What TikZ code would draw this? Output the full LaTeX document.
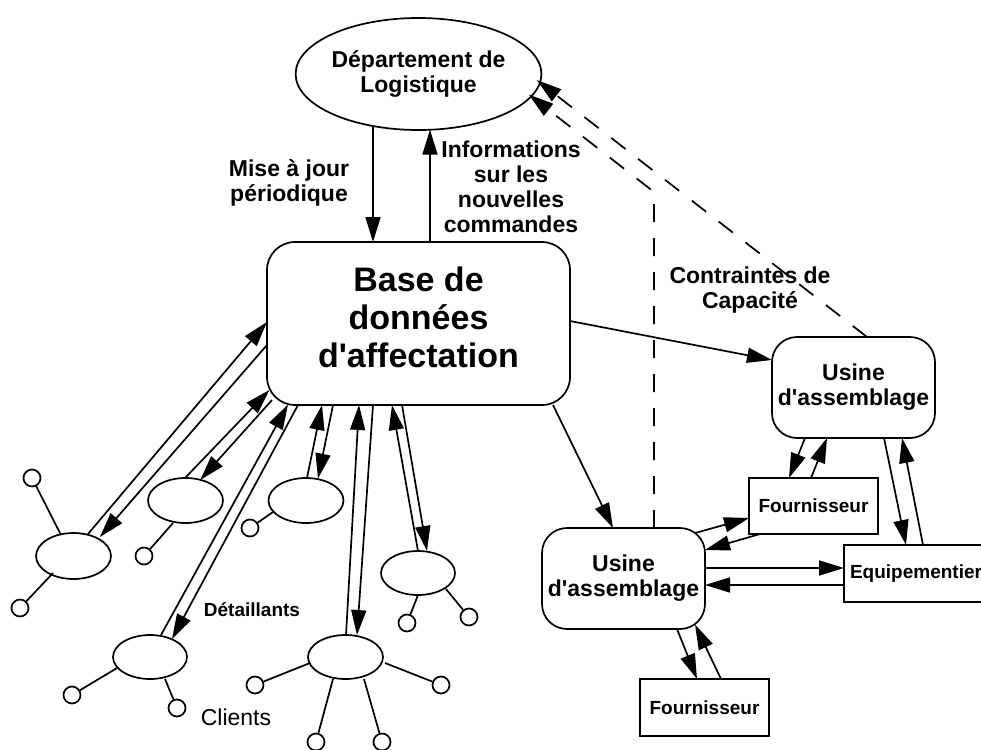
\documentclass[tikz,border=0pt]{standalone}
\usepackage{fontspec}
\setmainfont{Liberation Sans}
\usetikzlibrary{shapes.geometric,arrows.meta}
\begin{document}
\begin{tikzpicture}[x=1pt,y=-1pt,line width=1.7pt,
  arr/.style={-{Triangle[length=25pt,width=15pt]}},
  dsh/.style={dash pattern=on 18pt off 16pt},
  lbl/.style={font=\fontsize{23}{25}\selectfont\bfseries,align=center,inner sep=0pt},
  small/.style={font=\fontsize{19}{22}\selectfont\bfseries,align=center,inner sep=0pt},
  ell/.style={ellipse,draw,inner sep=0pt},
  rbox/.style={rectangle,draw,rounded corners=25pt,minimum width=163pt,minimum height=101pt,lbl},
  sbox/.style={rectangle,draw,small},
  circ/.style={circle,draw,minimum size=17pt,inner sep=0pt}]
\useasboundingbox (0,0) rectangle (981,749);

% main nodes
\node[ell,minimum width=237pt,minimum height=112pt,lbl] (dept) at (418.5,74) {Département de\\Logistique};
\node[draw,rounded corners=28pt,minimum width=303pt,minimum height=163pt,inner sep=0pt,align=center,
      font=\fontsize{34}{38}\selectfont\bfseries] (db) at (418.5,323.5)
      {Base de\\données\\d\textquotesingle affectation\rule[-12pt]{0pt}{0pt}};
\node[rbox] (uA) at (853.5,387.5) {Usine\\d\textquotesingle assemblage};
\node[rbox] (uB) at (623.5,578.5) {Usine\\d\textquotesingle assemblage};
\node[sbox,minimum width=129pt,minimum height=56pt] (f1) at (813.5,506) {Fournisseur};
\node[sbox,minimum width=144pt,minimum height=57pt] (eq) at (916,573.5) {Equipementier};
\node[sbox,minimum width=129pt,minimum height=57pt] (f2) at (704.5,707.5) {Fournisseur};

% retailers
\node[ell,minimum width=75pt,minimum height=46pt] (e1) at (73.5,556) {};
\node[ell,minimum width=75pt,minimum height=45pt] (e2) at (185.5,500.5) {};
\node[ell,minimum width=75pt,minimum height=45pt] (e3) at (306,500.5) {};
\node[ell,minimum width=74pt,minimum height=44pt] (e4) at (150,657) {};
\node[ell,minimum width=75pt,minimum height=44pt] (e5) at (345.5,657) {};
\node[ell,minimum width=74pt,minimum height=44pt] (e6) at (418,573) {};

% clients
\node[circ] (c1) at (32,478) {};
\node[circ] (c2) at (20,608) {};
\node[circ] (c3) at (144,556) {};
\node[circ] (c4) at (250,528) {};
\node[circ] (c5) at (72,695) {};
\node[circ] (c6) at (177,708) {};
\node[circ] (c7) at (255,685) {};
\node[circ] (c8) at (407,623) {};
\node[circ] (c9) at (469,617) {};
\node[circ] (c10) at (441,685) {};
\node[circ] (c11) at (316,742) {};
\node[circ] (c12) at (382,742) {};

% labels
\node[lbl] (lmise) at (289,183) {Mise à jour\\périodique};
\node[lbl] (linfo) at (511,187) {Informations\\sur les\\nouvelles\\commandes};
\node[lbl] (lcap) at (750,290) {Contraintes de\\Capacité};
\node[small] (ldet) at (252,610) {Détaillants};
\node[font=\fontsize{23}{25}\selectfont,inner sep=0pt] (lcli) at (236,717) {Clients};

% top arrows
\draw[arr] ([shift={(-45.5,51.7)}]dept.center) -- ([shift={(-45.5,-81.5)}]db.center);
\draw[arr] ([shift={(11.5,-81.5)}]db.center) -- ([shift={(11.5,55.7)}]dept.center);

% db to plants
\draw[arr] ([shift={(151.5,-2.5)}]db.center) -- ([shift={(-81.5,-27.5)}]uA.center);
\draw[arr] ([shift={(134.5,81.5)}]db.center) -- ([shift={(-10.5,-50.5)}]uB.center);

% dashed feedback
\coordinate (bend) at (654,192);
\draw[arr,dsh] ([shift={(30.5,-50.5)}]uB.center) -- (bend) -- ([shift={(110.3,20.5)}]dept.center);
\draw[arr,dsh] ([shift={(13.5,-50.5)}]uA.center) -- ([shift={(118.3,6)}]dept.center);

% db <-> retailers
\draw[arr] ([shift={(14.5,-22)}]e1.center) -- ([shift={(-151.5,-1.5)}]db.center);
\draw[arr] ([shift={(-151.5,21.5)}]db.center) -- ([shift={(26.5,-19)}]e1.center);
\draw[arr] ([shift={(-0.5,-22.5)}]e2.center) -- ([shift={(-149,66.5)}]db.center);
\draw[arr] ([shift={(-146.5,76.5)}]db.center) -- ([shift={(14.8,-20.6)}]e2.center);
\draw[arr] ([shift={(11,-22)}]e4.center) -- ([shift={(-130.5,81)}]db.center);
\draw[arr] ([shift={(-120.5,81.5)}]db.center) -- ([shift={(22,-18)}]e4.center);
\draw[arr] ([shift={(1,-22.5)}]e3.center) -- ([shift={(-96.5,81.5)}]db.center);
\draw[arr] ([shift={(-85.5,81.5)}]db.center) -- ([shift={(12,-22)}]e3.center);
\draw[arr] ([shift={(0.5,-22)}]e5.center) -- ([shift={(-59.5,81.5)}]db.center);
\draw[arr] ([shift={(-45.5,81.5)}]db.center) -- ([shift={(11.5,-22)}]e5.center);
\draw[arr] ([shift={(0,-22)}]e6.center) -- ([shift={(-26.5,81.5)}]db.center);
\draw[arr] ([shift={(-16.5,81.5)}]db.center) -- ([shift={(9,-22)}]e6.center);

% retailers to clients
\draw ([shift={(-12.5,-21)}]e1.center) -- (c1);
\draw ([shift={(-20.5,17)}]e1.center) -- (c2);
\draw ([shift={(-12.5,22.5)}]e2.center) -- (c3);
\draw ([shift={(-33,11.5)}]e3.center) -- (c4);
\draw ([shift={(-33,11)}]e4.center) -- (c5);
\draw ([shift={(15,22)}]e4.center) -- (c6);
\draw ([shift={(-35.5,6)}]e5.center) -- (c7);
\draw ([shift={(39.5,6)}]e5.center) -- (c10);
\draw ([shift={(-12.5,22)}]e5.center) -- (c11);
\draw ([shift={(18.5,22)}]e5.center) -- (c12);
\draw ([shift={(0,22)}]e6.center) -- (c8);
\draw ([shift={(28,16)}]e6.center) -- (c9);

% plants <-> suppliers
\draw[arr] ([shift={(-48.5,50.5)}]uA.center) -- ([shift={(-24.5,-28)}]f1.center);
\draw[arr] ([shift={(-2.5,-28)}]f1.center) -- ([shift={(-26.5,50.5)}]uA.center);
\draw[arr] ([shift={(30.5,50.5)}]uA.center) -- ([shift={(-10,-28.5)}]eq.center);
\draw[arr] ([shift={(7,-28.5)}]eq.center) -- ([shift={(48.5,50.5)}]uA.center);
\draw[arr] ([shift={(71.5,-45.5)}]uB.center) -- ([shift={(-64.5,12)}]f1.center);
\draw[arr] ([shift={(-53.5,28)}]f1.center) -- ([shift={(81.5,-28.5)}]uB.center);
\draw[arr] ([shift={(81.5,-10.5)}]uB.center) -- ([shift={(-72,-5.5)}]eq.center);
\draw[arr] ([shift={(-72,11.5)}]eq.center) -- ([shift={(81.5,6.5)}]uB.center);
\draw[arr] ([shift={(53.5,50.5)}]uB.center) -- ([shift={(-7.5,-28.5)}]f2.center);
\draw[arr] ([shift={(16.5,-28.5)}]f2.center) -- ([shift={(71.5,46)}]uB.center);
\end{tikzpicture}
\end{document}
